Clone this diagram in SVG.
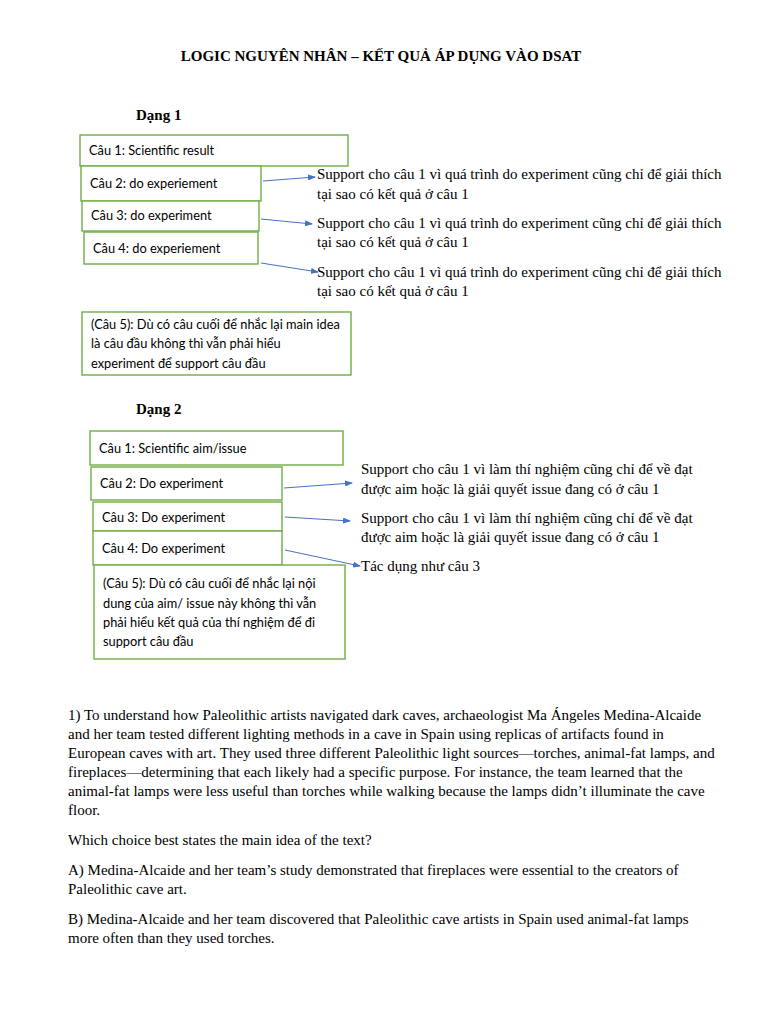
<svg xmlns="http://www.w3.org/2000/svg" width="768" height="1024" viewBox="0 0 768 1024">
<defs>
<marker id="ah" markerWidth="8" markerHeight="6" refX="7" refY="3" orient="auto" markerUnits="userSpaceOnUse">
<path d="M0,0 L8,3 L0,6 Z" fill="#4472c4"/>
</marker>
<style>
.box{fill:#fff;stroke:#70ad47;stroke-width:1.4}
.bt{font-family:Lato,"Open Sans",sans-serif;font-size:12.8px;fill:#000}
.st{font-family:"Liberation Serif",serif;font-size:15px;fill:#000}
.hd{font-family:"Liberation Serif",serif;font-size:15px;font-weight:bold;fill:#000}
.cn{stroke:#4472c4;stroke-width:1;fill:none;marker-end:url(#ah)}
</style>
</defs>
<rect width="768" height="1024" fill="#fff"/>
<text class="hd" x="381" y="61" text-anchor="middle">LOGIC NGUYÊN NHÂN – KẾT QUẢ ÁP DỤNG VÀO DSAT</text>
<text class="hd" x="136" y="120">Dạng 1</text>
<g id="d1-c1"><rect class="box" x="80" y="135" width="268" height="31"/><text class="bt" x="89" y="155">Câu 1: Scientific result</text></g>
<g id="d1-c2"><rect class="box" x="81" y="166" width="180" height="35"/><text class="bt" x="90" y="188">Câu 2: do experiement</text></g>
<g id="d1-c3"><rect class="box" x="82" y="201" width="177" height="30"/><text class="bt" x="91" y="220">Câu 3: do experiment</text></g>
<g id="d1-c4"><rect class="box" x="84" y="232" width="174" height="32"/><text class="bt" x="93" y="253">Câu 4: do experiement</text></g>
<g id="d1-c5"><rect class="box" x="82" y="312" width="269" height="63"/><text class="bt" x="91" y="329">(Câu 5): Dù có câu cuối để nhắc lại main idea</text><text class="bt" x="91" y="348">là câu đầu không thì vẫn phải hiểu</text><text class="bt" x="91" y="368">experiment để support câu đầu</text></g>
<g id="d1-n2"><text class="st" x="317" y="179">Support cho câu 1 vì quá trình do experiment cũng chỉ để giải thích</text><text class="st" x="317" y="199">tại sao có kết quả ở câu 1</text></g>
<g id="d1-n3"><text class="st" x="317" y="228">Support cho câu 1 vì quá trình do experiment cũng chỉ để giải thích</text><text class="st" x="317" y="247">tại sao có kết quả ở câu 1</text></g>
<g id="d1-n4"><text class="st" x="317" y="277">Support cho câu 1 vì quá trình do experiment cũng chỉ để giải thích</text><text class="st" x="317" y="296">tại sao có kết quả ở câu 1</text></g>
<text class="hd" x="136" y="414">Dạng 2</text>
<g id="d2-c1"><rect class="box" x="90" y="431" width="253" height="34"/><text class="bt" x="99" y="453">Câu 1: Scientific aim/issue</text></g>
<g id="d2-c2"><rect class="box" x="91" y="467" width="191" height="33"/><text class="bt" x="100" y="488">Câu 2: Do experiment</text></g>
<g id="d2-c3"><rect class="box" x="93" y="502" width="189" height="29"/><text class="bt" x="102" y="522">Câu 3: Do experiment</text></g>
<g id="d2-c4"><rect class="box" x="93" y="531" width="189" height="34"/><text class="bt" x="102" y="553">Câu 4: Do experiment</text></g>
<g id="d2-c5"><rect class="box" x="94" y="565" width="251" height="94"/><text class="bt" x="103" y="588">(Câu 5): Dù có câu cuối để nhắc lại nội</text><text class="bt" x="103" y="608">dung của aim/ issue này không thì vẫn</text><text class="bt" x="103" y="627">phải hiểu kết quả của thí nghiệm để đi</text><text class="bt" x="103" y="646">support câu đầu</text></g>
<g id="d2-n2"><text class="st" x="361" y="474">Support cho câu 1 vì làm thí nghiệm cũng chỉ để về đạt</text><text class="st" x="361" y="494">được aim hoặc là giải quyết issue đang có ở câu 1</text></g>
<g id="d2-n3"><text class="st" x="361" y="523">Support cho câu 1 vì làm thí nghiệm cũng chỉ để về đạt</text><text class="st" x="361" y="542">được aim hoặc là giải quyết issue đang có ở câu 1</text></g>
<g id="d2-n4"><text class="st" x="361" y="571">Tác dụng như câu 3</text></g>
<g id="connectors">
<line class="cn" x1="263" y1="181" x2="315" y2="177"/>
<line class="cn" x1="261" y1="219" x2="312" y2="224"/>
<line class="cn" x1="261" y1="263" x2="318" y2="272"/>
<line class="cn" x1="284" y1="488" x2="352" y2="483"/>
<line class="cn" x1="285" y1="517" x2="350" y2="521"/>
<line class="cn" x1="285" y1="550" x2="360" y2="566"/>
</g>
<g id="passage" class="st">
<text x="68" y="720">1) To understand how Paleolithic artists navigated dark caves, archaeologist Ma Ángeles Medina-Alcaide</text>
<text x="68" y="739">and her team tested different lighting methods in a cave in Spain using replicas of artifacts found in</text>
<text x="68" y="758">European caves with art. They used three different Paleolithic light sources—torches, animal-fat lamps, and</text>
<text x="68" y="777">fireplaces—determining that each likely had a specific purpose. For instance, the team learned that the</text>
<text x="68" y="796">animal-fat lamps were less useful than torches while walking because the lamps didn’t illuminate the cave</text>
<text x="68" y="815">floor.</text>
<text x="68" y="845">Which choice best states the main idea of the text?</text>
<text x="68" y="875">A) Medina-Alcaide and her team’s study demonstrated that fireplaces were essential to the creators of</text>
<text x="68" y="894">Paleolithic cave art.</text>
<text x="68" y="924">B) Medina-Alcaide and her team discovered that Paleolithic cave artists in Spain used animal-fat lamps</text>
<text x="68" y="943">more often than they used torches.</text>
</g>
</svg>
